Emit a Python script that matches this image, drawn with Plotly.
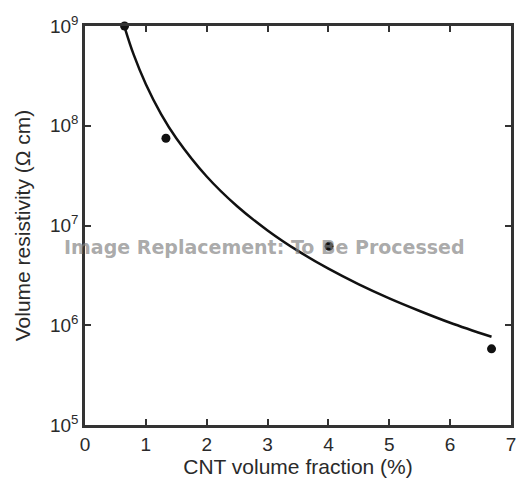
import plotly.graph_objects as go

# Measured data points
cnt_fraction = [0.65, 1.33, 4.01, 6.68]
resistivity = [1.0e9, 7.5e7, 6.2e6, 5.8e5]

# Fitted curve
curve_x = [0.65, 0.8, 1.0, 1.25, 1.5, 2.0, 2.5, 3.0, 3.5, 4.0, 4.5, 5.0, 5.5, 6.0, 6.68]
curve_y = [9.77e8, 5.16e8, 2.61e8, 1.31e8, 7.5e7, 3.10e7, 1.56e7, 8.93e6, 5.56e6,
           3.69e6, 2.57e6, 1.86e6, 1.39e6, 1.06e6, 7.66e5]

x_ticks = [0, 1, 2, 3, 4, 5, 6, 7]
y_tickvals = [1e5, 1e6, 1e7, 1e8, 1e9]
y_ticktext = ["10<sup>5</sup>", "10<sup>6</sup>", "10<sup>7</sup>", "10<sup>8</sup>", "10<sup>9</sup>"]

font_fam = "Liberation Sans, Arial, sans-serif"
txt_col = "#2a2a2a"

fig = go.Figure()
fig.add_trace(go.Scatter(x=curve_x, y=curve_y, mode="lines",
                         line=dict(color="#111111", width=2.5, shape="spline", smoothing=1.0),
                         showlegend=False, hoverinfo="skip"))
fig.add_trace(go.Scatter(x=cnt_fraction, y=resistivity, mode="markers",
                         marker=dict(color="#111111", size=9),
                         showlegend=False, cliponaxis=False))

fig.add_annotation(text="<b>Image Replacement: To Be Processed</b>", xref="paper", yref="paper",
                   x=(267 - 85) / 431, y=(425 - 247) / 399, showarrow=False,
                   font=dict(family="DejaVu Sans, sans-serif", size=19, color="rgba(128,128,128,0.68)"))

fig.update_layout(
    width=519, height=485,
    margin=dict(l=85, r=3, t=26, b=60),
    paper_bgcolor="white", plot_bgcolor="white",
    font=dict(family=font_fam, color=txt_col, size=19),
)
fig.update_xaxes(range=[0, 7], tickvals=x_ticks, showgrid=False, zeroline=False,
                 showline=True, linecolor="#333333", linewidth=2.5, mirror="allticks",
                 ticks="inside", ticklen=6, tickwidth=2, tickcolor="#333333",
                 tickfont=dict(size=19, color=txt_col),
                 title=dict(text="CNT volume fraction (%)", font=dict(size=21, color=txt_col), standoff=4))
fig.update_yaxes(type="log", range=[5, 9], tickvals=y_tickvals, ticktext=y_ticktext,
                 showgrid=False, zeroline=False,
                 showline=True, linecolor="#333333", linewidth=2.5, mirror="allticks",
                 ticks="inside", ticklen=6, tickwidth=2, tickcolor="#333333",
                 tickfont=dict(size=19, color=txt_col),
                 title=dict(text="Volume resistivity (Ω cm)", font=dict(size=21, color=txt_col), standoff=14))

fig.write_html("out.html")
